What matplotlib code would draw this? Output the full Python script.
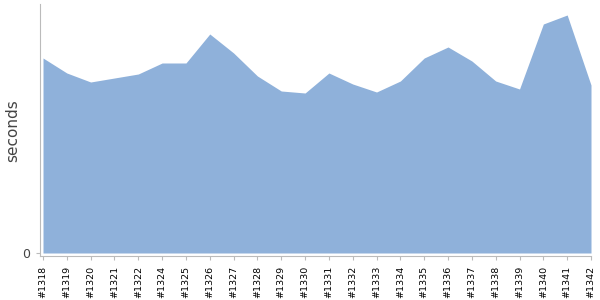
import matplotlib
matplotlib.use("Agg")
import matplotlib.pyplot as plt

builds = ["#1318", "#1319", "#1320", "#1321", "#1322", "#1324", "#1325", "#1326",
          "#1327", "#1328", "#1329", "#1330", "#1331", "#1332", "#1333", "#1334",
          "#1335", "#1336", "#1337", "#1338", "#1339", "#1340", "#1341", "#1342"]
seconds = [195, 180, 171, 175, 179, 190, 190, 219, 200, 177, 162, 160, 180, 169,
           161, 172, 195, 206, 192, 172, 164, 229, 238, 168]

fig = plt.figure(figsize=(6, 3), dpi=100)
ax = fig.add_axes([40/600, 1 - 256/300, 551/600, 252/300])
x = list(range(len(builds)))
ax.fill_between(x, seconds, 0, color="#8fb1da", linewidth=0)
ax.set_xlim(-3/23.8, len(builds) - 1)
ax.set_ylim(-3, 249)
ax.set_yticks([0])
ax.set_yticklabels(["0"], fontsize=9, color="#444444")
ax.tick_params(axis="y", length=3, color="#bbbbbb", pad=4)
ax.set_xticks(x)
ax.set_xticklabels(builds, rotation=90, fontsize=6.8, color="black")
ax.tick_params(axis="x", length=3, color="#bbbbbb", pad=4)
for s in ["top", "right"]:
    ax.spines[s].set_visible(False)
for s in ["left", "bottom"]:
    ax.spines[s].set_color("#bbbbbb")
ax.set_ylabel("seconds", fontsize=11, color="#444444")
ax.yaxis.set_label_coords(-20/551, (253 - 128) / 252)
fig.savefig("out.png", dpi=100)
